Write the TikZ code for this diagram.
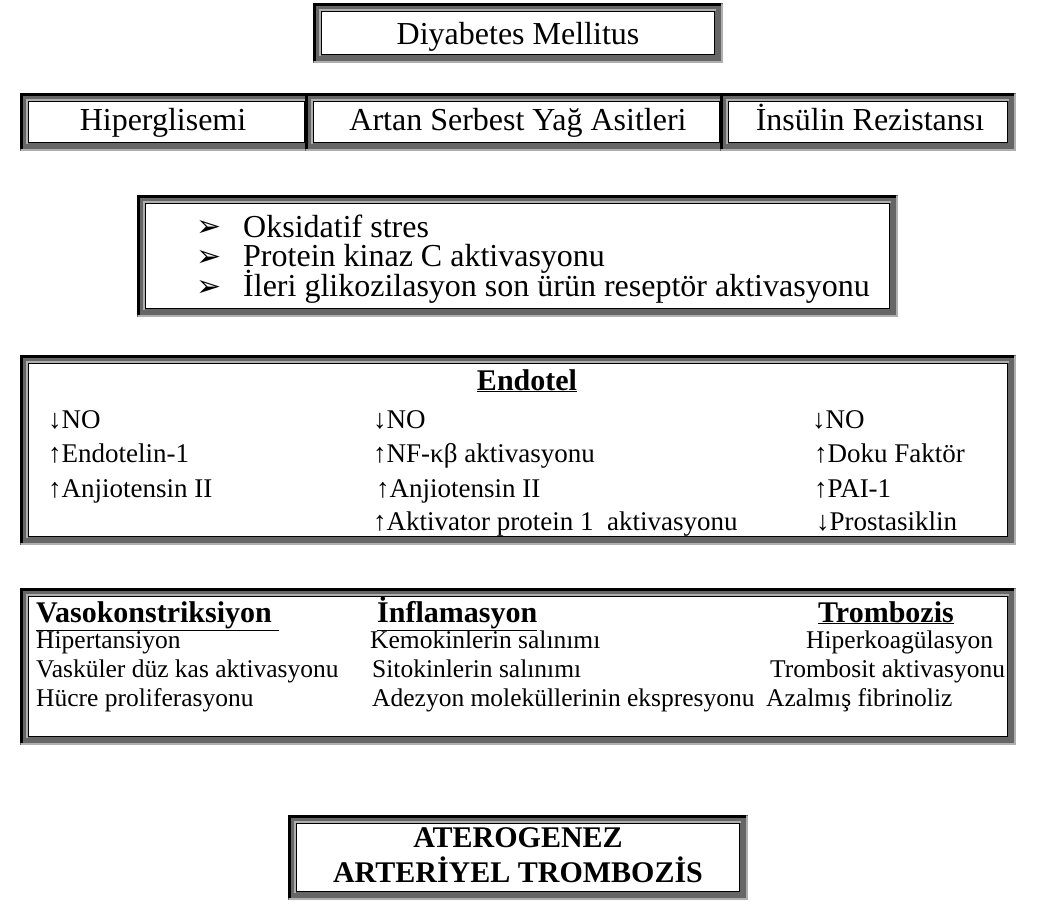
\documentclass[tikz,border=0pt]{standalone}
\usepackage{fontspec}
\setmainfont{Liberation Serif}
\newfontfamily\dingfont{DejaVu Sans}
\usetikzlibrary{calc}

\definecolor{framedark}{RGB}{102,102,102}
\definecolor{framelight}{RGB}{175,175,175}

\tikzset{
  bigtxt/.style={font=\fontsize{32}{36}\selectfont, inner sep=0pt, anchor=base},
  listtxt/.style={font=\fontsize{32}{34}\selectfont, inner sep=0pt, anchor=base west},
  smalltxt/.style={font=\fontsize{27}{30}\selectfont, inner sep=0pt, anchor=base west},
  sonuctxt/.style={font=\fontsize{25.5}{28}\selectfont, inner sep=0pt, anchor=base west},
  headtxt/.style={font=\fontsize{30}{32}\selectfont\bfseries, inner sep=0pt, anchor=base},
}

% framed box, #1,#2 top left corner, #3,#4 bottom right corner
\newcommand{\wbox}[4]{%
  \fill[framedark] (#1,#2) rectangle (#3,#4);
  \draw[framelight, line width=2.5pt] (#1+1,#4-1.2) -- (#3-1.2,#4-1.2) -- (#3-1.2,#2+1);
  \draw[black, line width=3pt] (#1+1.5,#4-2) -- (#1+1.5,#2+1.5) -- (#3-2,#2+1.5);
  \draw[framelight, line width=2pt] (#1+7,#4-7) -- (#1+7,#2+7) -- (#3-7,#2+7);
  \filldraw[fill=white, draw=black, line width=1.6pt] (#1+8.5,#2+8.5) rectangle (#3-8.5,#4-8.5);
}
\newcommand{\bul}{{\dingfont\fontsize{30}{32}\selectfont ➢}}

\begin{document}
\begin{tikzpicture}[x=1pt,y=-1pt]
\useasboundingbox (0,0) rectangle (1050,904);

% Diyabetes Mellitus
\wbox{313}{3}{723}{63}
\node[bigtxt] (dm) at (518,45) {Diyabetes Mellitus};

% nedenler
\wbox{20}{93}{313}{151}
\wbox{305}{93}{728}{151}
\wbox{720}{93}{1016}{151}
\node[bigtxt] (hg) at (163,131) {Hiperglisemi};
\node[bigtxt] (sya) at (518,131) {Artan Serbest Yağ Asitleri};
\node[bigtxt] (ir) at (870,131) {İnsülin Rezistansı};

% mekanizmalar
\wbox{137}{195}{898}{317}
\foreach \yy/\txt/\nm in {238/Oksidatif stres/m1,
                          267/Protein kinaz C aktivasyonu/m2,
                          297/İleri glikozilasyon son ürün reseptör aktivasyonu/m3}{
  \node[listtxt] (\nm b) at (196,\yy-1) {\bul};
  \node[listtxt] (\nm) at (243,\yy) {\txt};
}

% Endotel
\wbox{20}{355}{1016}{545}
\node[headtxt] (endo) at (527,390) {\underline{Endotel}};
\node[smalltxt] (e11) at (48,428) {↓NO};
\node[smalltxt] (e12) at (48,462) {↑Endotelin-1};
\node[smalltxt] (e13) at (48,497) {↑Anjiotensin II};
\node[smalltxt] (e21) at (373,428) {↓NO};
\node[smalltxt] (e22) at (373,462) {↑NF-κβ aktivasyonu};
\node[smalltxt] (e23) at (376,497) {↑Anjiotensin II};
\node[smalltxt] (e24) at (373,530) {↑Aktivator protein 1\ \ aktivasyonu};
\node[smalltxt] (e31) at (812,428) {↓NO};
\node[smalltxt] (e32) at (814,462) {↑Doku Faktör};
\node[smalltxt] (e33) at (814,497) {↑PAI-1};
\node[smalltxt] (e34) at (816,530) {↓Prostasiklin};

% sonuclar
\wbox{20}{588}{1016}{745}
\node[headtxt, anchor=base west] (vk) at (36,622) {\underline{Vasokonstriksiyon\ }};
\node[headtxt, anchor=base west] (inf) at (377,622) {\underline{İnflamasyon}};
\node[headtxt, anchor=base west] (tr) at (818,622) {\underline{Trombozis}};
\node[sonuctxt] (v1) at (36,648) {Hipertansiyon};
\node[sonuctxt] (v2) at (36,677) {Vasküler düz kas aktivasyonu};
\node[sonuctxt] (v3) at (36,706) {Hücre proliferasyonu};
\node[sonuctxt] (i1) at (370,648) {Kemokinlerin salınımı};
\node[sonuctxt] (i2) at (372,677) {Sitokinlerin salınımı};
\node[sonuctxt] (i3) at (372,706) {Adezyon moleküllerinin ekspresyonu};
\node[sonuctxt] (t1) at (806,648) {Hiperkoagülasyon};
\node[sonuctxt] (t2) at (770,677) {Trombosit aktivasyonu};
\node[sonuctxt] (t3) at (766,706) {Azalmış fibrinoliz};

% ATEROGENEZ
\wbox{288}{815}{748}{900}
\node[headtxt] (ater1) at (518,847) {ATEROGENEZ};
\node[headtxt] (ater2) at (518,882) {ARTERİYEL TROMBOZİS};
\end{tikzpicture}
\end{document}
